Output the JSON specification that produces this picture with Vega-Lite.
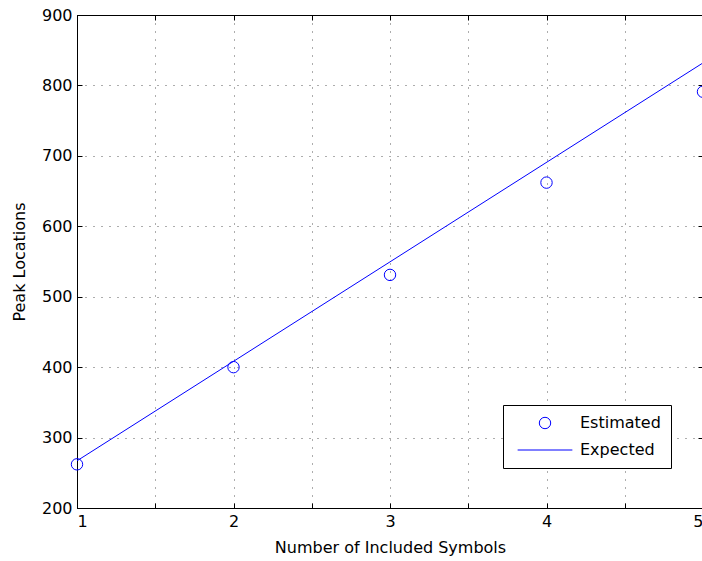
{
  "$schema": "https://vega.github.io/schema/vega-lite/v6.json",
  "width": 626,
  "height": 493,
  "autosize": {"type": "none"},
  "padding": {"left": 77, "top": 15, "right": 0, "bottom": 53},
  "background": "white",
  "config": {
    "font": "DejaVu Sans",
    "view": {"stroke": "black", "strokeWidth": 1},
    "axis": {
      "domainColor": "black",
      "domainWidth": 1,
      "tickColor": "black",
      "tickSize": -5,
      "tickWidth": 1,
      "labelFontSize": 16,
      "labelColor": "black",
      "labelFont": "DejaVu Sans",
      "titleFont": "DejaVu Sans",
      "titleFontSize": 16,
      "titleFontWeight": "normal",
      "titleColor": "black",
      "gridColor": "#333333",
      "gridDash": [1, 7],
      "gridWidth": 1,
      "gridOpacity": 0.8
    }
  },
  "resolve": {"axis": {"x": "independent", "y": "independent"}},
  "layer": [
    {
      "data": {
        "values": [
          {"n": 1, "peak": 267, "series": "Expected"},
          {"n": 5, "peak": 832, "series": "Expected"}
        ]
      },
      "mark": {"type": "line", "color": "#0000ff", "strokeWidth": 1},
      "encoding": {
        "x": {
          "field": "n", "type": "quantitative",
          "scale": {"domain": [1, 5], "nice": false, "zero": false},
          "axis": {"orient": "top", "labels": false, "title": null, "grid": false, "values": [1, 1.5, 2, 2.5, 3, 3.5, 4, 4.5, 5]}
        },
        "y": {
          "field": "peak", "type": "quantitative",
          "scale": {"domain": [200, 900], "nice": false, "zero": false},
          "axis": {"orient": "right", "labels": false, "title": null, "grid": false, "values": [200, 300, 400, 500, 600, 700, 800, 900]}
        }
      }
    },
    {
      "data": {
        "values": [
          {"n": 1, "peak": 262, "series": "Estimated"},
          {"n": 2, "peak": 400, "series": "Estimated"},
          {"n": 3, "peak": 531, "series": "Estimated"},
          {"n": 4, "peak": 662, "series": "Estimated"},
          {"n": 5, "peak": 791, "series": "Estimated"}
        ]
      },
      "mark": {"type": "point", "filled": false, "color": "#0000ff", "strokeWidth": 1, "size": 130, "opacity": 1},
      "encoding": {
        "x": {
          "field": "n", "type": "quantitative",
          "scale": {"domain": [1, 5], "nice": false, "zero": false},
          "axis": {
            "orient": "bottom",
            "title": "Number of Included Symbols",
            "values": [1, 1.5, 2, 2.5, 3, 3.5, 4, 4.5, 5],
            "labelExpr": "datum.value % 1 === 0 ? format(datum.value, 'd') : ''",
            "labelPadding": 10,
            "titlePadding": 10,
            "grid": true
          }
        },
        "y": {
          "field": "peak", "type": "quantitative",
          "scale": {"domain": [200, 900], "nice": false, "zero": false},
          "axis": {
            "orient": "left",
            "title": "Peak Locations",
            "values": [200, 300, 400, 500, 600, 700, 800, 900],
            "labelPadding": 10,
            "titlePadding": 14,
            "grid": true
          }
        },
        "shape": {
          "field": "series", "type": "nominal",
          "scale": {"domain": ["Estimated", "Expected"], "range": ["circle", "M-4.8,0H4.8"]},
          "legend": {
            "title": null,
            "orient": "none",
            "legendX": 426,
            "legendY": 390,
            "strokeColor": "black",
            "fillColor": "white",
            "padding": 10,
            "symbolOffset": 24,
            "symbolSize": 130,
            "symbolStrokeColor": "#0000ff",
            "symbolStrokeWidth": 1,
            "labelFontSize": 16,
            "labelColor": "black",
            "labelFont": "DejaVu Sans",
            "labelOffset": 27,
            "rowPadding": 11
          }
        }
      }
    }
  ]
}
